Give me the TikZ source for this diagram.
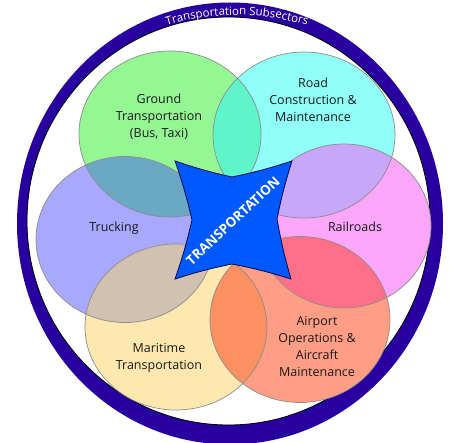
\documentclass[tikz,border=0pt]{standalone}
\usepackage{fontspec}
\setmainfont{Open Sans}
\usetikzlibrary{decorations.text}
\definecolor{ringc}{RGB}{40,0,160}
\definecolor{cG}{RGB}{148,247,148}
\definecolor{cR}{RGB}{143,255,248}
\definecolor{cT}{RGB}{168,168,255}
\definecolor{cL}{RGB}{250,166,250}
\definecolor{cM}{RGB}{255,232,176}
\definecolor{cA}{RGB}{255,158,132}
\definecolor{cGR}{RGB}{94,245,200}
\definecolor{cGT}{RGB}{106,168,196}
\definecolor{cRL}{RGB}{200,166,248}
\definecolor{cTM}{RGB}{210,192,176}
\definecolor{cMA}{RGB}{252,144,96}
\definecolor{cLA}{RGB}{255,112,136}
\definecolor{starc}{RGB}{0,88,255}
\definecolor{staredge}{RGB}{0,10,80}
\definecolor{txt}{RGB}{25,25,25}
\newcommand\ttlfont{\color{white}\fontsize{11.5}{11.5}\selectfont}
\def\EG{(170,308) ellipse [x radius=91, y radius=83]}
\def\ER{(304,307) ellipse [x radius=91, y radius=83]}
\def\ET{(125,202.5) ellipse [x radius=89, y radius=83]}
\def\EL{(344,216) ellipse [x radius=87, y radius=82]}
\def\EM{(176,115) ellipse [x radius=91, y radius=83]}
\def\EA{(300,122.5) ellipse [x radius=90, y radius=83]}
\tikzset{
  lbl/.style={font=\fontsize{12.5}{17}\selectfont, align=center, text=txt, inner sep=0pt},
  vennline/.style={draw=black!45, line width=0.7pt},
  starshape/.style={fill=starc, draw=staredge, line width=0.8pt, line join=miter},
}
\begin{document}
\begin{tikzpicture}[x=1pt,y=1pt]
\useasboundingbox (0,0) rectangle (449,442);
% ring
\fill[ringc, even odd rule] (230,218.5) ellipse [x radius=213, y radius=221]
  (228.5,221) ellipse [x radius=201.5, y radius=204];
\draw[black, line width=0.8pt] (228.5,221) ellipse [x radius=201.5, y radius=204];
% title along ring
\path[decorate, decoration={text along path, text align=center,
  text={|\ttlfont|Transportation Subsectors}}]
  (237,187) ++(125:240) arc[start angle=125, end angle=55, radius=240];
% ellipses
\fill[cG] \EG; \fill[cR] \ER; \fill[cT] \ET;
\fill[cL] \EL; \fill[cM] \EM; \fill[cA] \EA;
\begin{scope}\clip \EG; \fill[cGR] \ER; \end{scope}
\begin{scope}\clip \EG; \fill[cGT] \ET; \end{scope}
\begin{scope}\clip \ER; \fill[cRL] \EL; \end{scope}
\begin{scope}\clip \ET; \fill[cTM] \EM; \end{scope}
\begin{scope}\clip \EM; \fill[cMA] \EA; \end{scope}
\begin{scope}\clip \EL; \fill[cLA] \EA; \end{scope}
\draw[vennline] \EG; \draw[vennline] \ER; \draw[vennline] \ET;
\draw[vennline] \EL; \draw[vennline] \EM; \draw[vennline] \EA;
% labels
\node[lbl] (tG) at (159,325) {Ground\\Transportation\\(Bus, Taxi)};
\node[lbl] (tR) at (313,342) {Road\\Construction \&\\Maintenance};
\node[lbl] (tT) at (114,214) {Trucking};
\node[lbl] (tL) at (355,215) {Railroads};
\node[lbl] (tM) at (159,84) {Maritime\\Transportation};
\node[lbl] (tA) at (317,96) {Airport\\Operations \&\\Aircraft\\Maintenance};
% star
\draw[starshape] (175,281) to[bend right=3] (232,265) to[bend right=3] (292,281)
  to[bend right=3] (277,223) to[bend right=3] (291,163) to[bend right=3] (232,178)
  to[bend right=3] (175,163) to[bend right=3] (192,222) to[bend right=3] cycle;
\node[rotate=43, text=white, font=\bfseries\fontsize{13.5}{14}\selectfont, inner sep=0pt] (tc) at (233,221) {TRANSPORTATION};
\end{tikzpicture}
\end{document}
